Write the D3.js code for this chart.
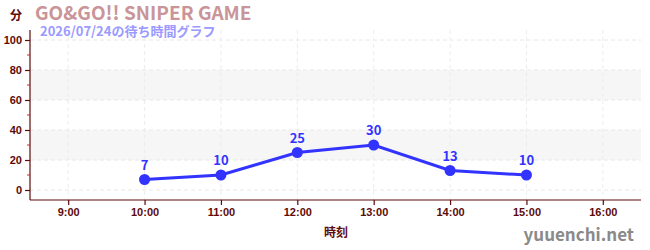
<!DOCTYPE html>
<html>
<head>
<meta charset="utf-8">
<script src="https://cdn.jsdelivr.net/npm/d3@7"></script>
<style>
  body { margin: 0; background: #fff; }
  svg { display: block; font-family: "Noto Sans CJK JP", "Noto Sans", sans-serif; }
</style>
</head>
<body>
<div id="chart"></div>
<script>
// data
const hours = [10, 11, 12, 13, 14, 15];
const waits = [7, 10, 25, 30, 13, 10];
const xTicks = [9, 10, 11, 12, 13, 14, 15, 16];
const yTicks = [0, 20, 40, 60, 80, 100];
const bands = [[20, 40], [60, 80]];

const width = 650, height = 250;
const axisColor = "#5c0a0a";
const lineColor = "#3333ff";

const svg = d3.select("#chart").append("svg")
  .attr("width", width)
  .attr("height", height);

const x = d3.scaleLinear().domain([8.5, 16.5]).range([30, 641]);
const y = d3.scaleLinear().domain([0, 100]).range([190, 40]);
const yBottom = 200, yTop = 30;

// shaded bands
svg.append("g").selectAll("rect")
  .data(bands)
  .enter().append("rect")
  .attr("x", x(8.5))
  .attr("width", x(16.5) - x(8.5))
  .attr("y", d => y(d[1]))
  .attr("height", d => y(d[0]) - y(d[1]))
  .attr("fill", "#f6f6f6");

// grid
svg.append("g").selectAll("line")
  .data(yTicks)
  .enter().append("line")
  .attr("x1", x(8.5)).attr("x2", x(16.5))
  .attr("y1", d => y(d)).attr("y2", d => y(d))
  .attr("stroke", "#e8e8e8")
  .attr("stroke-dasharray", "4,3");

svg.append("g").selectAll("line")
  .data(xTicks)
  .enter().append("line")
  .attr("x1", d => x(d)).attr("x2", d => x(d))
  .attr("y1", yTop).attr("y2", yBottom)
  .attr("stroke", "#ececec")
  .attr("stroke-dasharray", "4,3");

// y axis
const yAxis = svg.append("g")
  .attr("transform", `translate(${x(8.5)},0)`)
  .call(d3.axisLeft(y).tickValues(yTicks).tickSize(5).tickPadding(3));
yAxis.select(".domain").attr("d", `M0,${yTop}V${yBottom}`);

// minor ticks
svg.append("g").selectAll("line")
  .data([10, 30, 50, 70, 90])
  .enter().append("line")
  .attr("x1", x(8.5) - 3).attr("x2", x(8.5))
  .attr("y1", d => y(d)).attr("y2", d => y(d))
  .attr("stroke", "#e02020");

// x axis
const xAxis = svg.append("g")
  .attr("transform", `translate(0,${yBottom})`)
  .call(d3.axisBottom(x).tickValues(xTicks).tickSize(5).tickPadding(3)
    .tickFormat(d => d + ":00"));
xAxis.select(".domain").attr("d", `M${x(8.5)},0H${x(16.5)}`);

[yAxis, xAxis].forEach(a => {
  a.selectAll(".domain, .tick line").attr("stroke", axisColor).attr("stroke-width", 1.2);
  a.selectAll("text")
    .attr("fill", axisColor)
    .style("font-size", "11px")
    .style("font-weight", "bold");
});

// line + points
const line = d3.line()
  .x((d, i) => x(hours[i]))
  .y(d => y(d));

svg.append("path")
  .datum(waits)
  .attr("d", line)
  .attr("fill", "none")
  .attr("stroke", lineColor)
  .attr("stroke-width", 3);

svg.append("g").selectAll("circle")
  .data(waits)
  .enter().append("circle")
  .attr("cx", (d, i) => x(hours[i]))
  .attr("cy", d => y(d))
  .attr("r", 5.5)
  .attr("fill", lineColor);

svg.append("g").selectAll("text")
  .data(waits)
  .enter().append("text")
  .attr("x", (d, i) => x(hours[i]))
  .attr("y", d => y(d) - 10)
  .attr("text-anchor", "middle")
  .attr("fill", lineColor)
  .style("font-size", "13px")
  .style("font-weight", "bold")
  .text(d => d);

// titles and labels
svg.append("text")
  .attr("x", 10).attr("y", 20)
  .attr("fill", axisColor)
  .style("font-size", "12px")
  .style("font-weight", "bold")
  .text("分");

svg.append("text")
  .attr("x", 35).attr("y", 20)
  .attr("fill", "#c99598")
  .style("font-size", "19px")
  .style("font-weight", "bold")
  .text("GO&GO!! SNIPER GAME");

svg.append("text")
  .attr("x", 40).attr("y", 36)
  .attr("fill", "#9a9aff")
  .style("font-size", "13px")
  .style("font-weight", "bold")
  .text("2026/07/24の待ち時間グラフ");

svg.append("text")
  .attr("x", 336).attr("y", 237)
  .attr("text-anchor", "middle")
  .attr("fill", axisColor)
  .style("font-size", "12px")
  .style("font-weight", "bold")
  .text("時刻");

svg.append("text")
  .attr("x", 634).attr("y", 241)
  .attr("text-anchor", "end")
  .attr("fill", "#8a8a8a")
  .style("font-size", "17px")
  .style("font-weight", "bold")
  .text("yuuenchi.net");
</script>
</body>
</html>
